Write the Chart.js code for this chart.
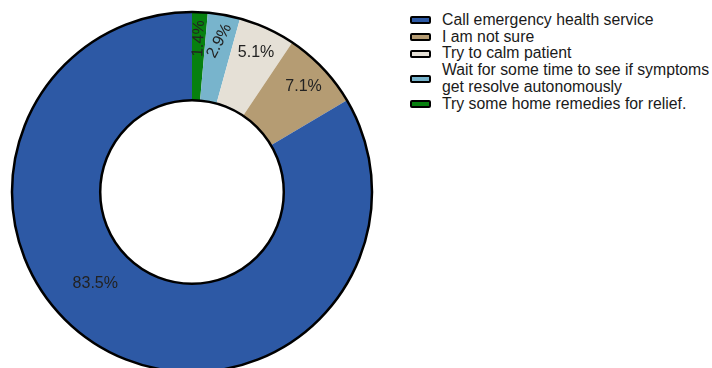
<!DOCTYPE html>
<html>
<head>
<meta charset="utf-8">
<script src="https://cdn.jsdelivr.net/npm/chart.js@4.4.1/dist/chart.umd.min.js"></script>
<style>
html, body { margin: 0; padding: 0; background: #fff; overflow: hidden; width: 712px; height: 368px; }
#wrap { position: absolute; left: 0; top: 0; width: 384px; height: 384px; }
#legend { position: absolute; left: 410px; top: 12px; width: 302px; font: 15.8px "Liberation Sans", Arial, sans-serif; color: #1a1a1a; line-height: 16.7px; }
.item { display: flex; align-items: center; }
.sw { width: 17px; height: 4px; border: 2px solid #000; border-radius: 2px; margin-right: 11px; flex: none; }
.txt { white-space: pre; }
</style>
</head>
<body>
<div id="wrap"><canvas id="donut"></canvas></div>
<div id="legend"></div>
<script>
var categories = [
    "Call emergency health service",
    "I am not sure",
    "Try to calm patient",
    "Wait for some time to see if symptoms\nget resolve autonomously",
    "Try some home remedies for relief."
];
var percents = [83.5, 7.1, 5.1, 2.9, 1.4];
var colors = ["#2d59a5", "#b59c73", "#e5e0d6", "#78b4cc", "#07800f"];

// legend, same order as the categories
var legend = document.getElementById("legend");
categories.forEach(function (name, i) {
    var row = document.createElement("div");
    row.className = "item";
    row.innerHTML = '<span class="sw" style="background:' + colors[i] + '"></span><span class="txt"></span>';
    row.querySelector(".txt").textContent = name;
    legend.appendChild(row);
});

// slices run counter-clockwise in the picture, so feed them reversed
var plotLabels = categories.slice().reverse();
var plotData = percents.slice().reverse();
var plotColors = colors.slice().reverse();

var ringPlugin = {
    id: "ring",
    afterDatasetsDraw: function (chart, args, opts) {
        var ctx = chart.ctx;
        var arcs = chart.getDatasetMeta(0).data;
        var a0 = arcs[0];
        ctx.save();
        ctx.lineWidth = 2.5;
        ctx.strokeStyle = "#000";
        ctx.beginPath();
        ctx.arc(a0.x, a0.y, a0.outerRadius, 0, 2 * Math.PI);
        ctx.stroke();
        ctx.beginPath();
        ctx.arc(a0.x, a0.y, a0.innerRadius, 0, 2 * Math.PI);
        ctx.stroke();

        ctx.font = '16px "Liberation Sans", Arial, sans-serif';
        ctx.fillStyle = "#222";
        ctx.textAlign = "center";
        ctx.textBaseline = "middle";
        arcs.forEach(function (arc, i) {
            var v = plotData[i];
            var big = v > 50;
            var along = big ? opts.largeAlong : 0.5;
            var radial = big ? opts.largeRadial : opts.radial;
            var ang = arc.startAngle + (arc.endAngle - arc.startAngle) * along;
            var r = arc.innerRadius + (arc.outerRadius - arc.innerRadius) * radial;
            var x = arc.x + r * Math.cos(ang);
            var y = arc.y + r * Math.sin(ang);
            ctx.save();
            ctx.translate(x, y);
            ctx.rotate((opts.rotate[i] || 0) * Math.PI / 180);
            ctx.fillText(v.toFixed(1) + "%", 0, 0);
            ctx.restore();
        });
        ctx.restore();
    }
};

new Chart(document.getElementById("donut"), {
    type: "doughnut",
    data: {
        labels: plotLabels,
        datasets: [{
            data: plotData,
            backgroundColor: plotColors,
            borderWidth: 0
        }]
    },
    options: {
        responsive: true,
        maintainAspectRatio: false,
        animation: false,
        cutout: "51%",
        layout: { padding: 12 },
        plugins: {
            legend: { display: false },
            tooltip: { enabled: false },
            ring: { radial: 0.7, largeAlong: 0.556, largeRadial: 0.47, rotate: [-87, -62, 0, 0, 0] }
        }
    },
    plugins: [ringPlugin]
});
</script>
</body>
</html>
